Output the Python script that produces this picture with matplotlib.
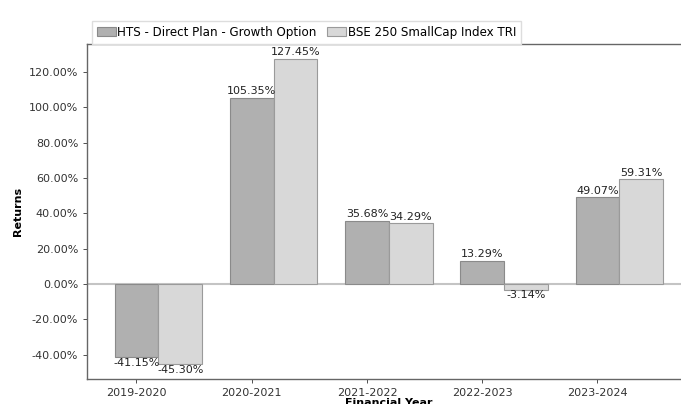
import matplotlib.pyplot as plt
import numpy as np
from matplotlib.ticker import FuncFormatter

# 数据
years = ['2019-2020', '2020-2021', '2021-2022', '2022-2023', '2023-2024']
fund = [-41.15, 105.35, 35.68, 13.29, 49.07]
index = [-45.30, 127.45, 34.29, -3.14, 59.31]
fund_name = 'HTS - Direct Plan - Growth Option'
index_name = 'BSE 250 SmallCap Index TRI'

plt.rcParams['font.family'] = ['DejaVu Sans']
plt.rcParams['font.size'] = 8

fig = plt.figure(figsize=(6.81, 4.04), dpi=100)
ax = fig.add_axes([0.128, 0.061, 0.886, 0.831])

w = 0.38
x = np.arange(len(years))
b1 = ax.bar(x, fund, w, color='#b0b0b0', edgecolor='#8a8a8a', linewidth=0.8, label=fund_name)
b2 = ax.bar(x + w, index, w, color='#d8d8d8', edgecolor='#9a9a9a', linewidth=0.8, label=index_name)
ax.axhline(0, color='#c4c4c4', linewidth=1.5, zorder=0.5)

# 柱子上的数值
def autolabel(rects):
    for rect in rects:
        h = rect.get_height()
        if h >= 0:
            ax.text(rect.get_x() + rect.get_width() / 2, h + 1, '%.2f%%' % h,
                    ha='center', va='bottom', color='#222222')
        else:
            ax.text(rect.get_x() + rect.get_width() / 2, h - 0.5, '%.2f%%' % h,
                    ha='center', va='top', color='#222222')

autolabel(b1)
autolabel(b2)

ax.set_xticks(x)
ax.set_xticklabels(years)
ax.set_yticks(np.arange(-40, 121, 20))
ax.yaxis.set_major_formatter(FuncFormatter(lambda v, p: '%.2f%%' % v))
ax.tick_params(colors='#333333', length=3, width=0.6)
for s in ax.spines.values():
    s.set_color('#666666')
    s.set_linewidth(1.0)

ax.set_xlabel('Financial Year', fontweight='bold', labelpad=0)
ax.set_ylabel('Returns', fontweight='bold')

ax.legend(loc='lower left', bbox_to_anchor=(0.008, 1.0), ncol=2, borderaxespad=0.0,
          handletextpad=0.1, columnspacing=0.9, handlelength=1.6, fancybox=False,
          framealpha=1, edgecolor='#dddddd', fontsize=8.6)

fig.savefig('out.png', dpi=100)
